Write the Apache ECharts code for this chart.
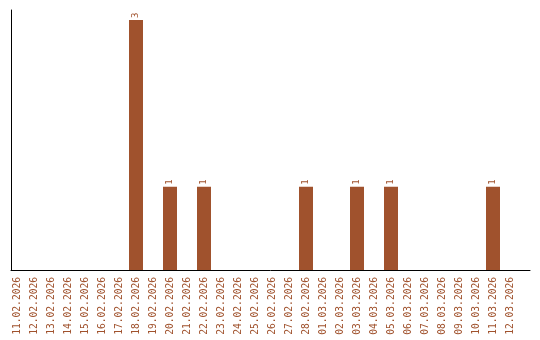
<!DOCTYPE html>
<html>
<head>
<meta charset="utf-8">
<script src="https://cdn.jsdelivr.net/npm/echarts@6/dist/echarts.min.js"></script>
<style>html,body{margin:0;padding:0;background:#fff}#c{width:540px;height:340px}</style>
</head>
<body>
<div id="c"></div>
<script>
const categories = ['11.02.2026','12.02.2026','13.02.2026','14.02.2026','15.02.2026','16.02.2026','17.02.2026','18.02.2026','19.02.2026','20.02.2026','21.02.2026','22.02.2026','23.02.2026','24.02.2026','25.02.2026','26.02.2026','27.02.2026','28.02.2026','01.03.2026','02.03.2026','03.03.2026','04.03.2026','05.03.2026','06.03.2026','07.03.2026','08.03.2026','09.03.2026','10.03.2026','11.03.2026','12.03.2026'];
const values = [0,0,0,0,0,0,0,3,0,1,0,1,0,0,0,0,0,1,0,0,1,0,1,0,0,0,0,0,1,0];

const color = '#A0522D';
const chart = echarts.init(document.getElementById('c'), null, {renderer: 'canvas'});
chart.setOption({
  animation: false,
  backgroundColor: '#fff',
  grid: [
    {left: 11, right: 10, top: 10, bottom: 70},
    {left: 8.5, right: 21.5, top: 10, bottom: 70}
  ],
  xAxis: [
    {gridIndex: 0, type: 'value', min: 0, max: 1, axisLine: {show: true, onZero: false, lineStyle: {color: '#000', width: 1}}, axisTick: {show: false}, axisLabel: {show: false}, splitLine: {show: false}},
    {gridIndex: 1, type: 'category', data: categories, axisLine: {show: false}, axisTick: {show: false}, splitLine: {show: false},
     axisLabel: {interval: 0, rotate: 90, margin: 7, color: color, fontFamily: 'DejaVu Sans Mono', fontSize: 9.6}}
  ],
  yAxis: [
    {gridIndex: 0, type: 'value', min: 0, max: 1, axisLine: {show: true, onZero: false, lineStyle: {color: '#000', width: 1}}, axisTick: {show: false}, axisLabel: {show: false}, splitLine: {show: false}},
    {gridIndex: 1, type: 'value', min: 0, max: 3.12, show: false, splitLine: {show: false}}
  ],
  series: [{
    type: 'bar',
    xAxisIndex: 1,
    yAxisIndex: 1,
    data: values,
    barWidth: 14,
    itemStyle: {color: color},
    label: {
      show: true,
      position: 'top',
      rotate: 90,
      align: 'left',
      verticalAlign: 'middle',
      distance: 2,
      color: color,
      fontFamily: 'DejaVu Sans Mono',
      fontSize: 9,
      formatter: p => p.value ? String(p.value) : ''
    }
  }]
});
</script>
</body>
</html>
